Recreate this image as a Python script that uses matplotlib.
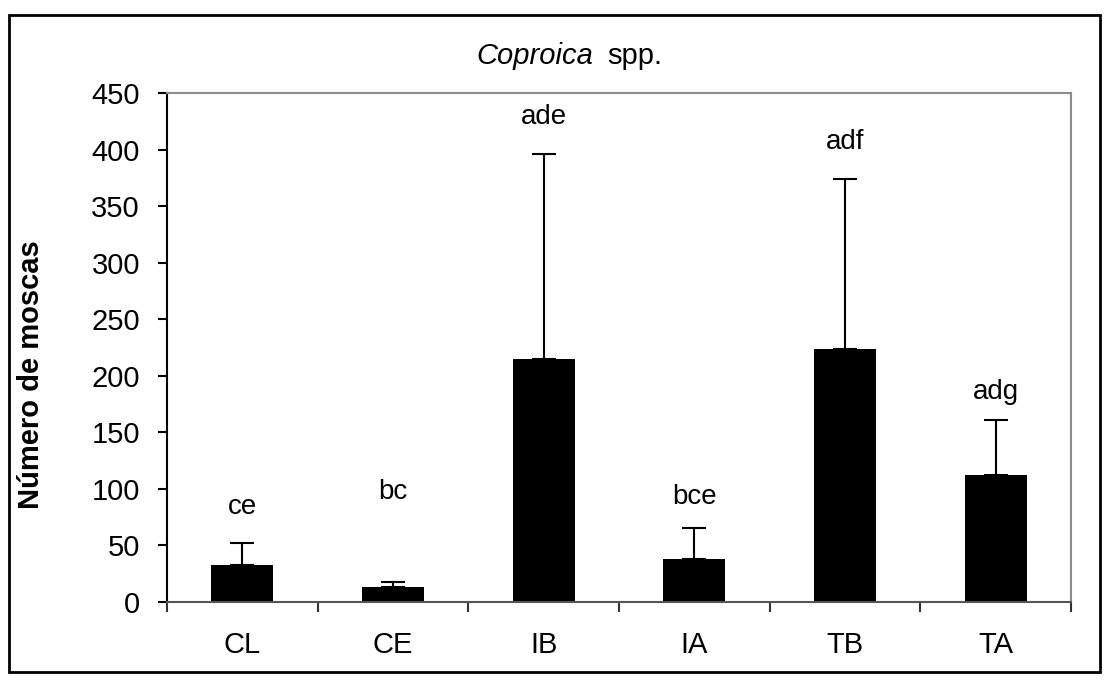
import matplotlib.pyplot as plt
from matplotlib.patches import Rectangle

plt.rcParams['font.family'] = ['Liberation Sans', 'DejaVu Sans']

# datos
categorias = ['CL', 'CE', 'IB', 'IA', 'TB', 'TA']
medias = [33, 13, 215, 38, 223.5, 112]
error_sup = [19.5, 5, 181, 27.5, 150.5, 49]
letras = ['ce', 'bc', 'ade', 'bce', 'adf', 'adg']
letras_y = [84, 97, 429, 93, 407, 186]

fig = plt.figure(figsize=(11.08, 6.8), dpi=100)
ax = fig.add_axes([167 / 1108, 1 - 602 / 680, (1071 - 167) / 1108, (602 - 93) / 680])

x = range(len(categorias))
ax.bar(x, medias, width=0.41, color='black', zorder=2)
ax.errorbar(x, medias, yerr=[[0] * len(medias), error_sup], fmt='none',
            ecolor='black', elinewidth=1.5, capsize=8.5, capthick=1.5, zorder=1)

for i, (t, yy) in enumerate(zip(letras, letras_y)):
    ax.text(i, yy, t, ha='center', va='center', fontsize=20)

ax.set_xlim(-0.5, 5.5)
ax.set_ylim(0, 450)
ax.set_yticks(range(0, 451, 50))
ax.tick_params(axis='y', labelsize=21, length=6.5, width=1.5, direction='out', pad=13)
ax.set_xticks([i - 0.5 for i in range(7)])
ax.set_xticklabels([])
ax.set_xticks(list(x), minor=True)
ax.set_xticklabels(categorias, minor=True)
ax.tick_params(axis='x', which='major', length=7, width=1.5, direction='out', color='#333333')
ax.tick_params(axis='x', which='minor', length=0, labelsize=21, pad=21)

ax.spines['left'].set_linewidth(1.5)
ax.spines['left'].set_color('black')
ax.spines['bottom'].set_linewidth(1.5)
ax.spines['bottom'].set_color('#555555')
for s in ['top', 'right']:
    ax.spines[s].set_color('#8c8c8c')
    ax.spines[s].set_linewidth(1.5)

ax.set_ylabel('Número de moscas', fontsize=21, fontweight='bold')
ax.yaxis.set_label_coords((45 - 167) / (1071 - 167), 0.446)

fig.text(593 / 1108, 1 - 56 / 680, 'Coproica', ha='right', va='center',
         fontsize=21, style='italic')
fig.text(607 / 1108, 1 - 56 / 680, 'spp.', ha='left', va='center', fontsize=21)

# marco exterior
fig.patches.append(Rectangle((9 / 1108, 1 - 672 / 680), (1100 - 9) / 1108, (672 - 15) / 680,
                             transform=fig.transFigure, fill=False, edgecolor='black',
                             linewidth=2))

plt.savefig('out.png', dpi=100)
